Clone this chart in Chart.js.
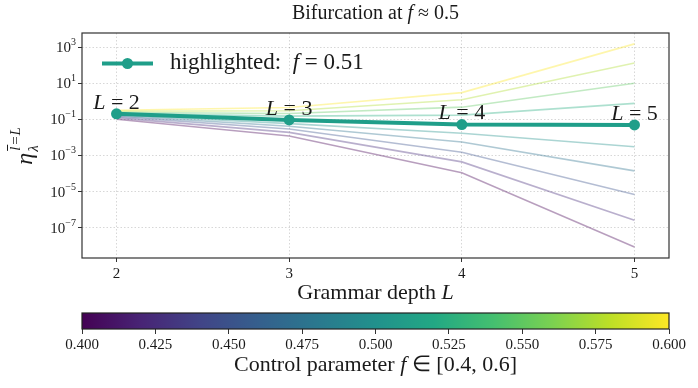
<!DOCTYPE html>
<html>
<head>
<meta charset="utf-8">
<script src="https://cdn.jsdelivr.net/npm/chart.js@4.4.0/dist/chart.umd.min.js"></script>
<style>
  html, body { margin: 0; padding: 0; background: #fff; }
  #wrap { position: relative; width: 698px; height: 388px; }
  canvas { position: absolute; left: 0; }
</style>
</head>
<body>
<div id="wrap">
  <canvas id="main" width="698" height="305" style="top:0"></canvas>
  <canvas id="cbar" width="698" height="83" style="top:305px"></canvas>
</div>
<script>
// grammar depth L on the x axis
const depths = [2, 3, 4, 5];

// control parameter f for the faint lines
const fValues = [0.4, 0.425, 0.45, 0.475, 0.5, 0.525, 0.55, 0.575, 0.6];

// eta values per f
const n_f400 = [1.0e-1, 1.2e-2, 1.1e-4, 8.5e-9];
const n_f425 = [1.2e-1, 1.9e-2, 4.4e-4, 2.6e-7];
const n_f450 = [1.4e-1, 2.9e-2, 1.5e-3, 6.8e-6];
const n_f475 = [1.6e-1, 4.1e-2, 5.6e-3, 1.4e-4];
const n_f500 = [1.8e-1, 5.8e-2, 1.7e-2, 3.0e-3];
const n_f525 = [2.1e-1, 1.5e-1, 1.7e-1, 7.6e-1];
const n_f550 = [2.4e-1, 2.1e-1, 4.7e-1, 1.0e1];
const n_f575 = [2.8e-1, 3.0e-1, 1.2e0, 1.3e2];
const n_f600 = [3.2e-1, 4.5e-1, 3.0e0, 1.5e3];
const faintSeries = [n_f400, n_f425, n_f450, n_f475, n_f500, n_f525, n_f550, n_f575, n_f600];

// highlighted run
const highlightF = 0.51;
const highlightVals = [2.0e-1, 9.3e-2, 5.1e-2, 4.9e-2];

// ticks
const yTicks = [1e3, 1e1, 1e-1, 1e-3, 1e-5, 1e-7];
const yExps = ['3', '1', '\u22121', '\u22123', '\u22125', '\u22127'];
const cbarTicks = [0.4, 0.425, 0.45, 0.475, 0.5, 0.525, 0.55, 0.575, 0.6];

const SERIF = "'Liberation Serif', 'Times New Roman', serif";
const INK = '#1a1a1a';

// viridis samples (0, .1, ... 1)
const viridis = ['#440154', '#482475', '#414487', '#355f8d', '#2a788e', '#21918c',
                 '#22a884', '#44bf70', '#7ad151', '#bddf26', '#fde725'];
const faintColors = ['#440154', '#472d7b', '#3b528b', '#2c728e', '#21918c',
                     '#28ae80', '#5ec962', '#addc30', '#fde725'];
const hlColor = '#1f9e89';

function hexA(hex, a) {
    const n = parseInt(hex.slice(1), 16);
    return `rgba(${n >> 16},${(n >> 8) & 255},${n & 255},${a})`;
}

// draw a run of text pieces [text, italic] centered on x
function drawRich(ctx, parts, x, y, size, align) {
    ctx.save();
    ctx.textBaseline = 'middle';
    ctx.textAlign = 'left';
    ctx.fillStyle = INK;
    const widths = parts.map(p => {
        ctx.font = (p[1] ? 'italic ' : '') + size + 'px ' + SERIF;
        return ctx.measureText(p[0]).width;
    });
    const total = widths.reduce((a, b) => a + b, 0);
    let cx = align === 'left' ? x : x - total / 2;
    parts.forEach((p, i) => {
        ctx.font = (p[1] ? 'italic ' : '') + size + 'px ' + SERIF;
        ctx.fillText(p[0], cx, y);
        cx += widths[i];
    });
    ctx.restore();
}

const datasets = [{
    label: 'highlighted',
    data: depths.map((d, i) => ({ x: d, y: highlightVals[i] })),
    borderColor: hlColor,
    backgroundColor: hlColor,
    borderWidth: 4,
    pointRadius: 5.5,
    pointBorderWidth: 0,
    order: 0
}];
faintSeries.forEach((vals, k) => {
    datasets.push({
        label: 'f=' + fValues[k],
        data: depths.map((d, i) => ({ x: d, y: vals[i] })),
        borderColor: hexA(faintColors[k], 0.38),
        borderWidth: 1.6,
        pointRadius: 0,
        order: 1
    });
});

const decor = {
    id: 'decor',
    afterDatasetsDraw(chart) {
        const ctx = chart.ctx;
        // L = n labels over the highlighted points
        chart.getDatasetMeta(0).data.forEach((pt, i) => {
            drawRich(ctx, [['L', true], [' = ' + depths[i], false]], pt.x, pt.y - 11, 22);
        });
    },
    afterDraw(chart) {
        const ctx = chart.ctx;
        const a = chart.chartArea;
        // frame
        ctx.save();
        ctx.strokeStyle = '#333';
        ctx.lineWidth = 1.2;
        ctx.strokeRect(a.left, a.top, a.right - a.left, a.bottom - a.top);
        ctx.restore();

        // y tick labels 10^k
        const ys = chart.scales.y;
        ctx.save();
        ctx.fillStyle = INK;
        ctx.textBaseline = 'alphabetic';
        yTicks.forEach((v, i) => {
            const py = ys.getPixelForValue(v);
            ctx.font = '10px ' + SERIF;
            const we = ctx.measureText(yExps[i]).width;
            ctx.font = '15px ' + SERIF;
            const wb = ctx.measureText('10').width;
            const right = a.left - 6;
            ctx.fillText('10', right - we - wb, py + 5);
            ctx.font = '10px ' + SERIF;
            ctx.fillText(yExps[i], right - we, py - 2);
        });
        ctx.restore();

        // title and x label
        drawRich(ctx, [['Bifurcation at ', false], ['f', true], [' \u2248 0.5', false]], (a.left + a.right) / 2, 14, 20);
        drawRich(ctx, [['Grammar depth ', false], ['L', true]], (a.left + a.right) / 2, 293, 22);

        // y label: eta_lambda^{l-bar = L}
        ctx.save();
        ctx.translate(29, 147);
        ctx.rotate(-Math.PI / 2);
        ctx.fillStyle = INK;
        ctx.textBaseline = 'alphabetic';
        ctx.font = 'italic 24px ' + SERIF;
        const wEta = ctx.measureText('\u03b7').width;
        ctx.font = 'italic 15px ' + SERIF;
        const wl = ctx.measureText('l').width;
        const wSup = wl + ctx.measureText('=L').width;
        let x0 = -(wEta + wSup + 1) / 2;
        ctx.font = 'italic 24px ' + SERIF;
        ctx.fillText('\u03b7', x0, 3);
        ctx.font = 'italic 15px ' + SERIF;
        ctx.fillText('\u03bb', x0 + wEta + 1, 9);
        ctx.fillText('l', x0 + wEta + 2, -9);
        ctx.fillText('=L', x0 + wEta + 2 + wl + 1, -9);
        ctx.strokeStyle = INK;
        ctx.lineWidth = 1;
        ctx.beginPath();
        ctx.moveTo(x0 + wEta + 2, -21.5);
        ctx.lineTo(x0 + wEta + 2 + wl + 2, -21.5);
        ctx.stroke();
        ctx.restore();

        // legend
        ctx.save();
        ctx.strokeStyle = hlColor;
        ctx.fillStyle = hlColor;
        ctx.lineWidth = 4;
        ctx.beginPath();
        ctx.moveTo(102, 63.5);
        ctx.lineTo(153, 63.5);
        ctx.stroke();
        ctx.beginPath();
        ctx.arc(127.5, 63.5, 5.5, 0, Math.PI * 2);
        ctx.fill();
        ctx.restore();
        drawRich(ctx, [['highlighted:  ', false], ['f', true], [' = ' + highlightF, false]], 170, 63, 23, 'left');
    }
};

new Chart(document.getElementById('main'), {
    type: 'line',
    data: { datasets: datasets },
    options: {
        responsive: false,
        animation: false,
        devicePixelRatio: 1,
        layout: { padding: { left: 0, right: 29, top: 33, bottom: 0 } },
        plugins: { legend: { display: false }, tooltip: { enabled: false } },
        elements: { line: { tension: 0 } },
        scales: {
            x: {
                type: 'linear',
                min: 1.8,
                max: 5.2,
                afterBuildTicks: s => { s.ticks = depths.map(v => ({ value: v })); },
                afterFit: s => { s.height = 305 - 258; },
                grid: { color: 'rgba(0,0,0,0.2)', lineWidth: 0.8, tickLength: 4, tickColor: '#333', tickWidth: 1, tickBorderDash: [] },
                border: { display: false, dash: [1.5, 2] },
                ticks: { color: INK, font: { family: SERIF, size: 15 }, padding: 3, maxRotation: 0, callback: v => v }
            },
            y: {
                type: 'logarithmic',
                min: 2.1e-9,
                max: 6.0e3,
                afterBuildTicks: s => { s.ticks = yTicks.map(v => ({ value: v })); },
                afterFit: s => { s.width = 82; },
                grid: { color: 'rgba(0,0,0,0.2)', lineWidth: 0.8, tickLength: 4, tickColor: '#333', tickWidth: 1, tickBorderDash: [] },
                border: { display: false, dash: [1.5, 2] },
                ticks: { display: false }
            }
        }
    },
    plugins: [decor]
});

// colorbar
const cbarDecor = {
    id: 'cbarDecor',
    beforeDatasetsDraw(chart) {
        const ctx = chart.ctx;
        const a = chart.chartArea;
        const g = ctx.createLinearGradient(a.left, 0, a.right, 0);
        viridis.forEach((c, i) => g.addColorStop(i / (viridis.length - 1), c));
        ctx.save();
        ctx.fillStyle = g;
        ctx.fillRect(a.left, a.top, a.right - a.left, a.bottom - a.top);
        ctx.strokeStyle = '#222';
        ctx.lineWidth = 1.2;
        ctx.strokeRect(a.left, a.top, a.right - a.left, a.bottom - a.top);
        ctx.restore();
    },
    afterDraw(chart) {
        const a = chart.chartArea;
        drawRich(chart.ctx, [['Control parameter ', false], ['f', true], [' \u2208 [0.4, 0.6]', false]], (a.left + a.right) / 2, 60, 22);
    }
};

new Chart(document.getElementById('cbar'), {
    type: 'scatter',
    data: { datasets: [] },
    options: {
        responsive: false,
        animation: false,
        devicePixelRatio: 1,
        layout: { padding: { left: 82, right: 29, top: 8, bottom: 0 } },
        plugins: { legend: { display: false }, tooltip: { enabled: false } },
        scales: {
            x: {
                type: 'linear',
                min: 0.4,
                max: 0.6,
                afterBuildTicks: s => { s.ticks = cbarTicks.map(v => ({ value: v })); },
                afterFit: s => { s.height = 83 - 24; },
                grid: { drawOnChartArea: false, tickLength: 5, tickColor: '#333', tickWidth: 1 },
                border: { display: false },
                ticks: { color: INK, font: { family: SERIF, size: 15 }, padding: 2, maxRotation: 0, autoSkip: false,
                         callback: v => Number(v).toFixed(3) }
            },
            y: { display: false, min: 0, max: 1 }
        }
    },
    plugins: [cbarDecor]
});
</script>
</body>
</html>
